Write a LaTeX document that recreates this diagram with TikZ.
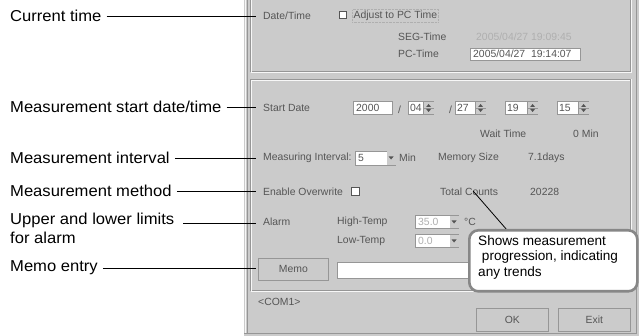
\documentclass[tikz,border=0pt]{standalone}
\usepackage{fontspec}
\setmainfont{Liberation Sans}
\newfontfamily\lblfont[FakeStretch=1.05]{Liberation Sans}
\begin{document}
\begin{tikzpicture}[x=1pt,y=-1pt,
  lbl/.style={anchor=west,inner sep=0pt,font=\lblfont\fontsize{15.8}{19}\selectfont,text=black},
  lead/.style={draw=black,line width=0.9pt},
  dlg/.style={anchor=west,inner sep=0pt,font=\fontsize{10.4}{11}\selectfont,text=dlgtext},
  field/.style={fill=white,draw=dlgdark,line width=0.6pt},
  btn/.style={fill=dlgbg,draw=dlgdark,line width=0.8pt},
  etch/.style={draw=dlgdark,line width=0.7pt},
  etchw/.style={draw=white!85!dlgbg,line width=0.7pt}]
\definecolor{dlgbg}{RGB}{203,203,203}
\definecolor{dlgdark}{RGB}{150,150,150}
\definecolor{dlgtext}{RGB}{85,85,85}
\definecolor{dlgdim}{RGB}{175,175,175}
\definecolor{callb}{RGB}{135,135,135}
\useasboundingbox (0,0) rectangle (639,336);
\fill[white] (0,0) rectangle (639,336);
% dialog body
\fill[dlgbg] (244,0) rectangle (639,336);
\draw[etchw] (245.5,0) -- (245.5,333);
\draw[etch] (247.5,0) -- (247.5,333);
\draw[etch] (244,333.5) -- (636,333.5);
\draw[etch] (636.5,0) -- (636.5,333.5);
% group box 1
\draw[etch] (250.5,-2) rectangle (630.5,71.5);
\draw[etchw] (251.5,-2) -- (251.5,72.5) -- (631.5,72.5) -- (631.5,-2);
% group box 2
\draw[etch] (250.5,79.5) rectangle (630.5,290.5);
\draw[etchw] (251.5,291.5) -- (251.5,80.5) -- (629.5,80.5);
\draw[etchw] (250.5,291.5) -- (631.5,291.5) -- (631.5,79.5);

% ---- Date/Time group
\node[dlg] (dt) at (263,16) {Date/Time};
\node[draw=dlgtext,fill=white,minimum size=7pt,inner sep=0pt] (cb1) at (343,15) {};
\node[dlg,draw=dlgdim,densely dotted,inner sep=1.5pt] (adj) at (352,16) {Adjust to PC Time};
\node[dlg] (seg) at (398,37) {SEG-Time};
\node[dlg,text=dlgdim] (segv) at (476,37) {2005/04/27 19:09:45};
\node[dlg] (pct) at (398,54) {PC-Time};
\node[field,minimum width=110pt,minimum height=12pt,inner sep=0pt,anchor=west] (pcf) at (470,54) {};
\node[dlg,anchor=west] (pcv) at (473,54) {2005/04/27\ \ 19:14:07};

% ---- Start date
\node[dlg] (sd) at (263,108) {Start Date};
\node[field,minimum width=39pt,minimum height=13pt,anchor=west,inner sep=0pt] (yr) at (353,108) {};
\node[dlg] at (356,108) {2000};
\node[dlg] (sl1) at (398,110) {/};
\node[field,minimum width=25pt,minimum height=13pt,anchor=west,inner sep=0pt] (mo) at (408,108) {};
\node[dlg] at (410,108) {04};
\node[dlg] (sl2) at (449,110) {/};
\node[field,minimum width=30pt,minimum height=13pt,anchor=west,inner sep=0pt] (dy) at (455,108) {};
\node[dlg] at (457,108) {27};
\node[field,minimum width=32pt,minimum height=13pt,anchor=west,inner sep=0pt] (hr) at (505,108) {};
\node[dlg] at (507,108) {19};
\node[field,minimum width=31pt,minimum height=13pt,anchor=west,inner sep=0pt] (mi) at (557,108) {};
\node[dlg] at (559,108) {15};
\foreach \n in {mo,dy,hr,mi}{
  \fill[dlgbg] ([xshift=-10pt,yshift=-0.5pt]\n.north east) rectangle ([yshift=0.5pt]\n.south east);
  \draw[dlgdark,line width=0.5pt] ([xshift=-10pt,yshift=-0.5pt]\n.north east) -- ([xshift=-10pt,yshift=0.5pt]\n.south east);
  \draw[dlgdark,line width=0.5pt] ([xshift=-10pt]\n.east) -- (\n.east);
  \fill[dlgtext] ([xshift=-7.5pt,yshift=1pt]\n.east) -- ([xshift=-2.5pt,yshift=1pt]\n.east) -- ([xshift=-5pt,yshift=4pt]\n.east) -- cycle;
  \fill[dlgtext] ([xshift=-7.5pt,yshift=-1pt]\n.east) -- ([xshift=-2.5pt,yshift=-1pt]\n.east) -- ([xshift=-5pt,yshift=-4pt]\n.east) -- cycle;
}
\node[dlg] (wt) at (480,134) {Wait Time};
\node[dlg] (wm) at (573,134) {0 Min};

% ---- Measuring interval
\node[dlg] (mint) at (263,158) {Measuring Interval:};
\node[field,minimum width=40pt,minimum height=14pt,anchor=west,inner sep=0pt] (iv) at (355,158) {};
\node[dlg] at (358,158) {5};
\fill[dlgbg] ([xshift=-9pt,yshift=-0.5pt]iv.north east) rectangle ([yshift=0.5pt]iv.south east);
\fill[dlgtext] ([xshift=-7pt,yshift=1.5pt]iv.east) -- ([xshift=-2pt,yshift=1.5pt]iv.east) -- ([xshift=-4.5pt,yshift=-1.5pt]iv.east) -- cycle;
\node[dlg] (imin) at (399,158) {Min};
\node[dlg] (ms) at (438,158) {Memory Size};
\node[dlg] (msv) at (528,158) {7.1days};

% ---- Overwrite
\node[dlg] (ow) at (263,192) {Enable Overwrite};
\node[draw=dlgtext,fill=white,minimum size=8pt,inner sep=0pt] (cb2) at (355,191) {};
\node[dlg] (tc) at (440,192) {Total Counts};
\node[dlg] (tcv) at (530,192) {20228};

% ---- Alarm
\node[dlg] (al) at (263,222) {Alarm};
\node[dlg] (ht) at (337,222) {High-Temp};
\node[field,minimum width=43pt,minimum height=13pt,anchor=west,inner sep=0pt] (htf) at (415,222) {};
\node[dlg,text=dlgdim] at (418,222) {35.0};
\node[dlg] (lt) at (337,241) {Low-Temp};
\node[field,minimum width=43pt,minimum height=13pt,anchor=west,inner sep=0pt] (ltf) at (415,241) {};
\node[dlg,text=dlgdim] at (418,241) {0.0};
\foreach \n in {htf,ltf}{
  \fill[dlgbg] ([xshift=-9pt,yshift=-0.5pt]\n.north east) rectangle ([yshift=0.5pt]\n.south east);
  \fill[dlgtext] ([xshift=-7pt,yshift=1.5pt]\n.east) -- ([xshift=-2pt,yshift=1.5pt]\n.east) -- ([xshift=-4.5pt,yshift=-1.5pt]\n.east) -- cycle;
}
\node[dlg] (degc) at (464,222) {°C};

% ---- Memo
\node[btn,minimum width=70pt,minimum height=22pt,inner sep=0pt,anchor=west] (memo) at (258,269) {};
\node[dlg,anchor=center] at (memo.center) {Memo};
\node[field,minimum width=140pt,minimum height=16pt,anchor=west,inner sep=0pt] (memof) at (337,270) {};
\node[dlg] (com) at (258,302) {<COM1>};

% ---- OK / Exit
\node[btn,minimum width=72pt,minimum height=23pt,inner sep=0pt,anchor=west] (ok) at (476,320) {};
\node[dlg,anchor=center] at (ok.center) {OK};
\node[btn,minimum width=72pt,minimum height=23pt,inner sep=0pt,anchor=west] (ex) at (558,320) {};
\node[dlg,anchor=center] at (ex.center) {Exit};

% ---- callout
\coordinate (ctop) at (507,230);
\draw[lead,line width=0.8pt] ([xshift=4pt,yshift=5pt]tc.south) -- (ctop);
\node[draw=callb,line width=2.6pt,fill=white,rounded corners=9pt,minimum width=168pt,minimum height=61pt,anchor=north west,inner sep=0pt] (call) at (468,229) {};
\node[anchor=north west,inner sep=0pt,align=left,font=\fontsize{13.6}{15.5}\selectfont] (calltxt) at (478,235) {Shows measurement\\\ progression, indicating\\any trends};

% ---- left labels
\node[lbl] (l1) at (10,16) {Current time};
\node[lbl] (l2) at (10,107) {Measurement start date/time};
\node[lbl] (l3) at (10,158) {Measurement interval};
\node[lbl] (l4) at (10,191) {Measurement method};
\node[lbl,align=left,anchor=north west] (l5) at (10,213) {Upper and lower limits\\for alarm};
\node[lbl] (l6) at (10,268) {Memo entry};
\coordinate (e1) at (256,16);
\coordinate (e2) at (256,107);
\coordinate (e3) at (256,158);
\coordinate (e4) at (256,191);
\coordinate (s5) at (183,223);
\coordinate (e5) at (256,223);
\coordinate (e6) at (256,268);
\draw[lead] ([xshift=5pt]l1.east) -- (e1);
\draw[lead] ([xshift=5pt]l2.east) -- (e2);
\draw[lead] ([xshift=5pt]l3.east) -- (e3);
\draw[lead] ([xshift=5pt]l4.east) -- (e4);
\draw[lead] (s5) -- (e5);
\draw[lead] ([xshift=5pt]l6.east) -- (e6);
\end{tikzpicture}
\end{document}
